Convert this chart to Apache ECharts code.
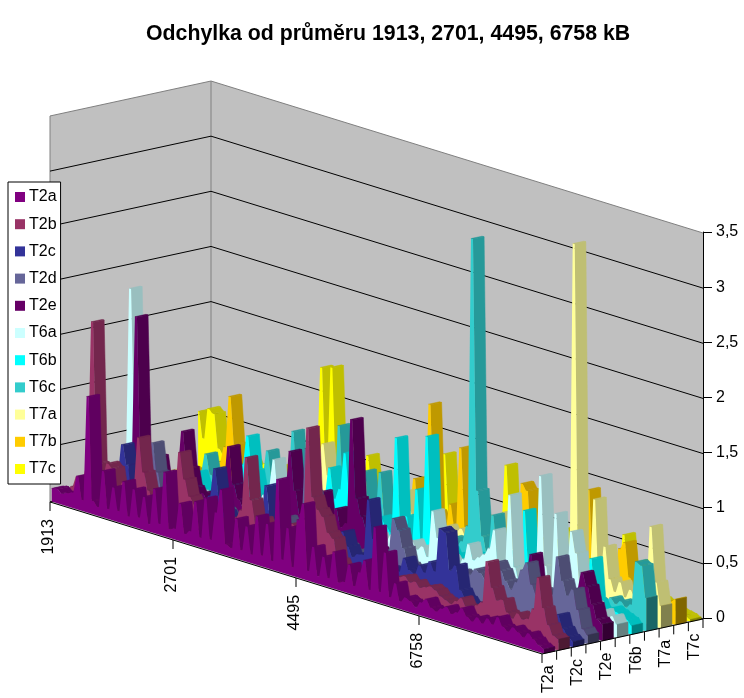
<!DOCTYPE html>
<html><head><meta charset="utf-8">
<script src="https://cdn.jsdelivr.net/npm/echarts@6/dist/echarts.min.js"></script>
<style>html,body{margin:0;padding:0;background:#fff}#c{width:744px;height:698px}</style></head>
<body><div id="c"></div>
<script>
const titleText='Odchylka od průměru 1913, 2701, 4495, 6758 kB';
const tickLabels=['1913','2701','4495','6758'];
const seriesNames=['T2a','T2b','T2c','T2d','T2e','T6a','T6b','T6c','T7a','T7b','T7c'];
const seriesColors=['#800080','#993366','#333399','#666699','#660066','#CCFFFF','#00FFFF','#33CCCC','#FFFF99','#FFCC00','#FFFF00'];
const valueTicks=[0,0.5,1,1.5,2,2.5,3];
const t2a=[.12,.13,.1,.12,.14,.3,.1,1.05,.12,.08,.42,.09,.3,.1,.38,.08,.34,.1,.3,.07,.4,.1,.58,.08,
.1,.34,.08,.12,.4,.09,.46,.1,.36,.58,.1,.08,.36,.09,.32,.08,.44,.1,.4,.08,.83,.12,.42,.08,
.52,.68,.09,.32,.07,.26,.08,.33,.07,.09,.26,.08,.22,.34,.09,.67,.1,.47,.08,.22,.07,.12,.1,.06,
.12,.16,.1,.08,.12,.15,.1,.13,.18,.12,.09,.14,.1,.16,.12,.2,.13,.1,.15,.12,.09,.14,.1,.06,.04];
const t2b=[.08,.12,.22,.2,.35,1.67,.4,.3,.43,.4,.22,.3,.2,.3,.75,.45,.3,.2,.25,.15,.22,.3,.73,.5,
.36,.3,.25,.2,.16,.22,.18,.14,.2,.3,.38,.87,.5,.3,.36,.28,.22,.3,.2,.34,.4,.38,.3,1.31,
.7,.6,.55,.42,.38,.2,.14,.1,.12,.16,.12,.1,.14,.18,.12,.16,.2,.22,.24,.2,.22,.18,.2,.22,
.2,.16,.14,.12,.16,.2,.14,.12,.18,.22,.6,.38,.28,.3,.2,.16,.22,.18,.2,.3,.6,.34,.2,.12,.1];
const t2c=[.05,.06,.08,.1,.08,.12,.15,.28,.57,.4,.15,.2,.12,.16,.1,.14,.18,.12,.15,.1,.14,.2,.16,.22,
.3,.35,.61,.38,.25,.18,.2,.15,.22,.2,.16,.28,.6,.32,.22,.16,.2,.15,.22,.18,.14,.2,.16,.22,
.18,.25,.3,.4,.28,.2,.24,.25,.76,.42,.22,.18,.2,.16,.2,.33,.24,.22,.31,.26,.37,.3,.7,.68,
.35,.41,.2,.14,.1,.12,.08,.1,.12,.1,.16,.12,.1,.08,.12,.1,.14,.18,.12,.16,.2,.25,.14,.08,.05];
const t2d=[.05,.08,.06,.1,.12,.08,.1,.14,.12,.2,.3,.6,.35,.18,.14,.2,.16,.12,.18,.14,.1,.16,.12,.18,
.14,.2,.16,.12,.18,.15,.22,.18,.14,.2,.16,.24,.2,.3,.25,.2,.28,.98,.6,.4,.3,.26,.2,.24,
.2,.22,.16,.2,.18,.24,.2,.25,.2,.25,.59,.5,.35,.22,.18,.15,.2,.14,.18,.2,.16,.2,.25,.3,
.28,.3,.36,.34,.3,.4,.48,.42,.34,.28,.36,.48,.56,.38,.3,.36,.3,.35,.7,.5,.38,.45,.28,.12,.08];
const t2e=[.1,.08,.12,.16,.3,1.63,.42,.28,.3,.42,.22,.18,.25,.35,.72,.4,.24,.18,.22,.16,.2,.26,.36,.71,
.38,.26,.2,.16,.22,.18,.14,.2,.16,.22,.42,.84,.5,.3,.22,.26,.3,.56,.3,.26,.45,.3,.35,1.3,
.6,.45,.35,.28,.2,.14,.1,.12,.08,.1,.12,.08,.1,.08,.06,.1,.12,.08,.1,.08,.12,.1,.14,.12,
.16,.12,.18,.14,.1,.16,.2,.15,.22,.35,.58,.32,.2,.16,.14,.18,.15,.2,.28,.4,.56,.45,.3,.18,.15];
const t6a=[.2,1.8,.55,.2,.12,.16,.1,.14,.18,.12,.1,.15,.12,.08,.14,.1,.16,.12,.1,.14,.18,.14,.1,.16,
.2,.16,.22,.3,.4,.65,.35,.2,.16,.22,.18,.14,.2,.16,.22,.2,.16,.24,.18,.22,.26,.2,.24,.18,
.22,.26,.2,.24,.3,.22,.26,.2,.3,.24,.28,.2,.63,.4,.3,.26,.22,.2,.28,.43,.3,.34,.38,.45,
.63,.22,.3,.99,.35,.22,.36,.2,.3,1.25,.45,.25,.95,.3,.25,.83,.65,.25,.16,.24,.12,.2,.1,.18,.12];
const t6b=[.05,.08,.06,.1,.12,.08,.14,.1,.12,.16,.14,.25,.15,.12,.1,.14,.16,.2,.25,.3,.45,.72,.42,.26,
.2,.16,.22,.18,.14,.2,.16,.22,.18,.2,.26,.3,.4,.66,.4,.5,.84,.5,.34,.28,.34,.26,.3,.36,
.3,.25,1.12,.3,.44,.2,.71,.25,1.22,.4,.3,.22,.26,.2,.24,.18,.22,.28,.22,.26,.2,.3,.34,.38,
.3,.24,.3,.82,.3,.2,.24,.28,.2,.24,.18,.22,.2,.16,.22,.2,.57,.2,.14,.15,.18,.16,.14,.12,.08];
const t6c=[.06,.05,.08,.06,.1,.08,.12,.14,.16,.2,.37,.2,.14,.12,.16,.12,.14,.18,.16,.2,.25,.32,.57,.34,
.3,.2,.3,.82,.3,.22,.24,.28,.22,.3,.25,.3,1,.4,.3,.25,.3,.66,.3,.25,.69,.3,.25,.26,
.22,.26,.2,.24,.18,.22,.2,.16,.2,.24,.3,.25,.3,.45,3.07,.8,.4,.25,.62,.3,.25,.24,.2,.24,
.2,.18,.22,.16,.2,.14,.18,.12,.16,.12,.1,.14,.1,.12,.14,.12,.16,.2,.16,.2,.16,.2,.6,.58,.3];
const t7a=[.05,.06,.04,.08,.06,.1,.08,.06,.1,.08,.12,.1,.14,.12,.16,.14,.18,.16,.2,.18,.22,.2,.25,.3,
.22,.28,.24,.3,.4,.55,.72,.45,.3,.26,.22,.28,.24,.2,.26,.3,.24,.28,.3,.26,.34,.4,.52,.36,
.28,.32,.26,.3,.24,.28,.32,.26,.3,.34,.28,.36,.42,.5,.38,.32,.45,.6,.36,.3,.34,.28,.36,.42,
.34,.22,.3,.26,.2,.3,.25,3.24,.3,.2,.26,.98,.25,.58,.3,.2,.3,.18,.26,.2,.22,.25,.89,.4,.2];
const t7b=[.03,.05,.04,.06,.08,.1,.14,.2,.35,.82,.4,.22,.16,.2,.14,.18,.12,.16,.1,.14,.12,.16,.14,.18,
.14,.18,.16,.2,.14,.18,.22,.18,.14,.2,.16,.2,.24,.18,.22,.2,.26,.22,.28,.2,.3,.59,.22,.3,
1.31,.35,.28,.2,.46,.25,1,.3,.2,.3,.26,.3,.24,.28,.22,.26,.3,.22,.85,.8,.3,.2,.26,.3,
.24,.28,.22,.26,.2,.3,.25,.98,.3,.2,.3,.22,.25,.53,.6,.3,.2,.24,.2,.16,.14,.12,.14,.2,.23];
const t7c=[.53,.3,.58,.55,.25,.2,.16,.2,.14,.18,.22,.16,.2,.24,.18,.22,.26,.2,.24,.3,.26,.22,.3,.35,
1.27,.35,1.3,.4,.3,.25,.3,.24,.22,.6,.3,.28,.32,.26,.3,.24,.28,.32,.26,.3,.22,.26,.3,.3,
.83,.3,.25,.3,.26,.3,.24,.28,.2,.24,.2,.3,.9,.3,.25,.3,.26,.3,.25,.28,.32,.26,.2,.25,
.5,.25,.26,.3,.24,.28,.22,.26,.2,.26,.2,.6,.25,.2,.4,.2,.2,.16,.12,.1,.08,.06,.05,.04,.02];
const seriesValues=[t2a,t2b,t2c,t2d,t2e,t6a,t6b,t6c,t7a,t7b,t7c];

const FONT='"Liberation Sans", Arial, sans-serif';
const GAP=0.12, PLATEAU=0.2;
function shade(hex,f){const n=parseInt(hex.slice(1),16);
  return 'rgb('+[(n>>16)&255,(n>>8)&255,n&255].map(c=>Math.round(c*f)).join(',')+')';}
// oblique projection of (position along categories, position along series, value) into the axes' data space
function P(api,u,w,v){return api.coord([(492*u+161*w)/653, v+1.052-1.378*u+0.317*w]);}
function poly(pts,fill,stroke){return {type:'polygon',shape:{points:pts},
  style:{fill:fill,stroke:stroke||fill,lineWidth:stroke?0.5:0}};}
function line(a,b,c){return {type:'line',shape:{x1:a[0],y1:a[1],x2:b[0],y2:b[1]},style:{stroke:c,lineWidth:1,fill:null}};}
function rotText(x,y,t){return {type:'text',x:x,y:y,rotation:Math.PI/2,
  style:{text:t,align:'right',verticalAlign:'middle',fill:'#000',fontSize:16,fontFamily:FONT}};}

function ribbon(s){
  const values=seriesValues[s],N=values.length,c=seriesColors[s];
  const w0=(s+GAP)/11,w1=(s+1-GAP)/11,side=shade(c,0.75),cap=shade(c,0.5);
  const clampU=x=>Math.max(0,Math.min(1,x/(N-1)));
  function face(api,ch,u1,v1,u2,v2){
    const a=P(api,u1,w0,v1),b=P(api,u2,w0,v2),b2=P(api,u2,w1,v2),a2=P(api,u1,w1,v1);
    const cross=(b[0]-a[0])*(a2[1]-a[1])-(b[1]-a[1])*(a2[0]-a[0]);
    if(cross<=0) ch.push(poly([a,b,b2,a2],side,side));
  }
  return {type:'custom',name:seriesNames[s],coordinateSystem:'cartesian2d',silent:true,
    itemStyle:{color:c},
    data:values.map((v,i)=>[i,v]),
    encode:{x:0,y:1},
    renderItem:function(params,api){
      const i=params.dataIndex,ch=[];
      face(api,ch,clampU(i-PLATEAU),values[i],clampU(i+PLATEAU),values[i]);
      if(i<N-1){
        face(api,ch,clampU(i+PLATEAU),values[i],clampU(i+1-PLATEAU),values[i+1]);
      }else{
        ch.push(poly([P(api,1,w0,values[i]),P(api,1,w0,0),P(api,1,w1,0),P(api,1,w1,values[i])],cap,cap));
        const pts=[P(api,0,w0,0)];
        values.forEach((v,k)=>{pts.push(P(api,clampU(k-PLATEAU),w0,v));pts.push(P(api,clampU(k+PLATEAU),w0,v));});
        pts.push(P(api,1,w0,0));
        ch.push(poly(pts,c));
      }
      return {type:'group',children:ch};
    }};
}
const wallSeries={type:'custom',coordinateSystem:'cartesian2d',silent:true,data:[[0,0]],encode:{x:0,y:1},
  renderItem:function(p,api){
    const G='#C0C0C0',E='#808080',ch=[];
    ch.push(poly([P(api,0,0,0),P(api,0,0,3.5),P(api,0,1,3.5),P(api,0,1,0)],G));
    ch.push(poly([P(api,0,1,0),P(api,0,1,3.5),P(api,1,1,3.5),P(api,1,1,0)],G));
    ch.push(poly([P(api,0,0,0),P(api,0,1,0),P(api,1,1,0),P(api,1,0,0)],G));
    ch.push(line(P(api,0,0,0),P(api,0,0,3.5),E));
    ch.push(line(P(api,0,0,3.5),P(api,0,1,3.5),E));
    ch.push(line(P(api,0,1,3.5),P(api,1,1,3.5),E));
    ch.push(line(P(api,0,1,0),P(api,0,1,3.5),E));
    valueTicks.forEach(v=>{
      ch.push(line(P(api,0,0,v),P(api,0,1,v),'#000'));
      ch.push(line(P(api,0,1,v),P(api,1,1,v),'#000'));
    });
    return {type:'group',children:ch};
  }};
const axisSeries={type:'custom',coordinateSystem:'cartesian2d',silent:true,data:[[0,0]],encode:{x:0,y:1},
  renderItem:function(p,api){
    const ch=[];
    ch.push(line(P(api,0,0,0),P(api,1,0,0),'#000'));
    ch.push(line(P(api,1,0,0),P(api,1,1,0),'#000'));
    tickLabels.forEach((t,k)=>{
      const a=P(api,k/tickLabels.length,0,0);
      ch.push(line(a,[a[0],a[1]+9],'#000'));
      ch.push(rotText(a[0]-1,a[1]+17,t));
    });
    seriesNames.forEach((t,k)=>{
      const a=P(api,1,k/11,0);
      ch.push(line(a,[a[0],a[1]+9],'#000'));
      if(k%2===0){const m=P(api,1,(k+0.5)/11,0);ch.push(rotText(m[0]-1,m[1]+13,t));}
    });
    const e=P(api,1,1,0);ch.push(line(e,[e[0],e[1]+9],'#000'));
    return {type:'group',children:ch};
  }};

const chart=echarts.init(document.getElementById('c'),null,{renderer:'canvas'});
chart.setOption({
  animation:false,backgroundColor:'#fff',
  title:{text:titleText,left:146,top:24,padding:0,textStyle:{fontFamily:FONT,fontSize:21.3,fontWeight:'bold',color:'#000'}},
  legend:{orient:'vertical',left:8,top:182,data:seriesNames,icon:'rect',itemWidth:10,itemHeight:10,itemGap:11.2,
    padding:[7,4,7,7],backgroundColor:'#fff',borderColor:'#000',borderWidth:1,selectedMode:false,
    formatter:n=>n,textStyle:{fontFamily:FONT,fontSize:16,color:'#000',padding:[0,0,0,-1],lineHeight:16},
    z:20},
  grid:{left:50,right:41,top:232,bottom:80,containLabel:false},
  xAxis:{type:'value',min:0,max:1,show:false},
  yAxis:{type:'value',position:'right',min:0,max:3.5,interval:0.5,
    axisLine:{show:true,onZero:false,lineStyle:{color:'#000',width:1}},
    axisTick:{show:true,length:9,lineStyle:{color:'#000',width:1}},
    splitLine:{show:false},
    axisLabel:{margin:13,color:'#000',fontFamily:FONT,fontSize:16,
      formatter:v=>String(v).replace('.',','),hideOverlap:false,showMinLabel:true,showMaxLabel:true}},
  series:[wallSeries].concat(seriesNames.map((n,s)=>ribbon(s)).reverse(),[axisSeries])
});
</script></body></html>
